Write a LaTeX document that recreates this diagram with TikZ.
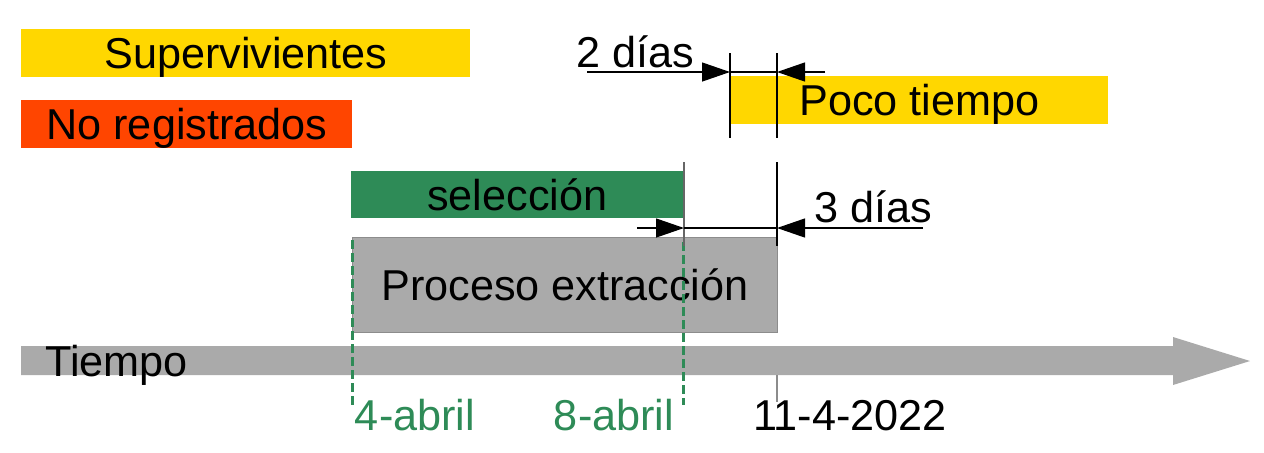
\documentclass[tikz,border=0pt]{standalone}
\usepackage{fontspec}
\setmainfont{Liberation Sans}
\usetikzlibrary{arrows.meta}
\definecolor{barYellow}{HTML}{FFD700}
\definecolor{barRed}{HTML}{FF4500}
\definecolor{barGreen}{HTML}{2E8B57}
\definecolor{barGray}{HTML}{AAAAAA}
\definecolor{edgeGray}{HTML}{8C8C8C}
\begin{document}
\begin{tikzpicture}[x=0.5pt,y=-0.5pt,
  txt/.style={font=\fontsize{21.6}{26}\selectfont, inner sep=0pt, text height=15.5pt, text depth=0pt},
  bar/.style={txt, anchor=north west, draw=none},
  tick/.style={line width=0.6pt, black},
  ticklight/.style={line width=0.6pt, edgeGray},
  dim/.style={line width=0.6pt, black},
  dimarrow/.style={dim, -{Triangle[length=14pt,width=9.5pt]}},
  datedash/.style={barGreen, line width=1.5pt, dash pattern=on 4.5pt off 2pt},
  datelabel/.style={txt, text=barGreen}]
\useasboundingbox (0,0) rectangle (1264,452);

% legend bars
\node[bar, fill=barYellow, minimum width=224.5pt, minimum height=24pt] (sup) at (21,29) {Supervivientes};
\node[bar, fill=barRed, minimum width=165.5pt, minimum height=24pt] (nor) at (21,100) {No registrados};

% poco tiempo
\node[bar, fill=barYellow, minimum width=189pt, minimum height=24pt] (poco) at (730,76) {Poco tiempo};

% seleccion
\node[bar, fill=barGreen, minimum width=166pt, minimum height=23.5pt] (sel) at (351,171) {selección};

% proceso extraccion
\node[bar, fill=barGray, draw=edgeGray, line width=0.5pt, minimum width=212.5pt, minimum height=47.5pt] (proc) at (352,237) {Proceso extracción};

% time axis
\fill[barGray] (21,346) -- (1173,346) -- (1173,337) -- (1250,361) -- (1173,385) -- (1173,375) -- (21,375) -- cycle;
\node[txt, anchor=west] (tiempo) at (45,361) {Tiempo};

% green dashed date markers
\coordinate (d4top) at (352,240);
\coordinate (d4bot) at (352,405);
\coordinate (d8top) at (683,242);
\coordinate (d8bot) at (683,405);
\draw[datedash] (d4top) -- (d4bot);
\draw[datedash] (d8top) -- (d8bot);
\node[datelabel] (l4) at (415,415) {4-abril};
\node[datelabel] (l8) at (614,415) {8-abril};
\node[txt] (l11) at (850,415) {11-4-2022};
\coordinate (t11a) at (777,375);
\coordinate (t11b) at (777,402);
\draw[ticklight] (t11a) -- (t11b);

% 2 dias dimension
\coordinate (a1) at (730,53); \coordinate (a2) at (730,138);
\coordinate (b1) at (777,53); \coordinate (b2) at (777,138);
\draw[tick] (a1) -- (a2);
\draw[tick] (b1) -- (b2);
\coordinate (s2) at (587,72); \coordinate (m2a) at (730,72);
\coordinate (m2b) at (777,72); \coordinate (e2) at (825,72);
\draw[dimarrow] (s2) -- (m2a);
\draw[dim] (m2a) -- (m2b);
\draw[dimarrow] (e2) -- (m2b);
\node[txt] (dos) at (635,52) {2 días};

% 3 dias dimension
\coordinate (c1) at (684,162); \coordinate (c2) at (684,246);
\coordinate (f1) at (777,162); \coordinate (f2) at (777,246);
\draw[line width=0.6pt, gray!80!black] (c1) -- (c2);
\draw[tick] (f1) -- (f2);
\coordinate (s3) at (637,228); \coordinate (m3a) at (684,228);
\coordinate (m3b) at (777,228); \coordinate (e3) at (923,228);
\draw[dimarrow] (s3) -- (m3a);
\draw[dim] (m3a) -- (m3b);
\draw[dimarrow] (e3) -- (m3b);
\node[txt] (tres) at (873,207) {3 días};
\end{tikzpicture}
\end{document}
